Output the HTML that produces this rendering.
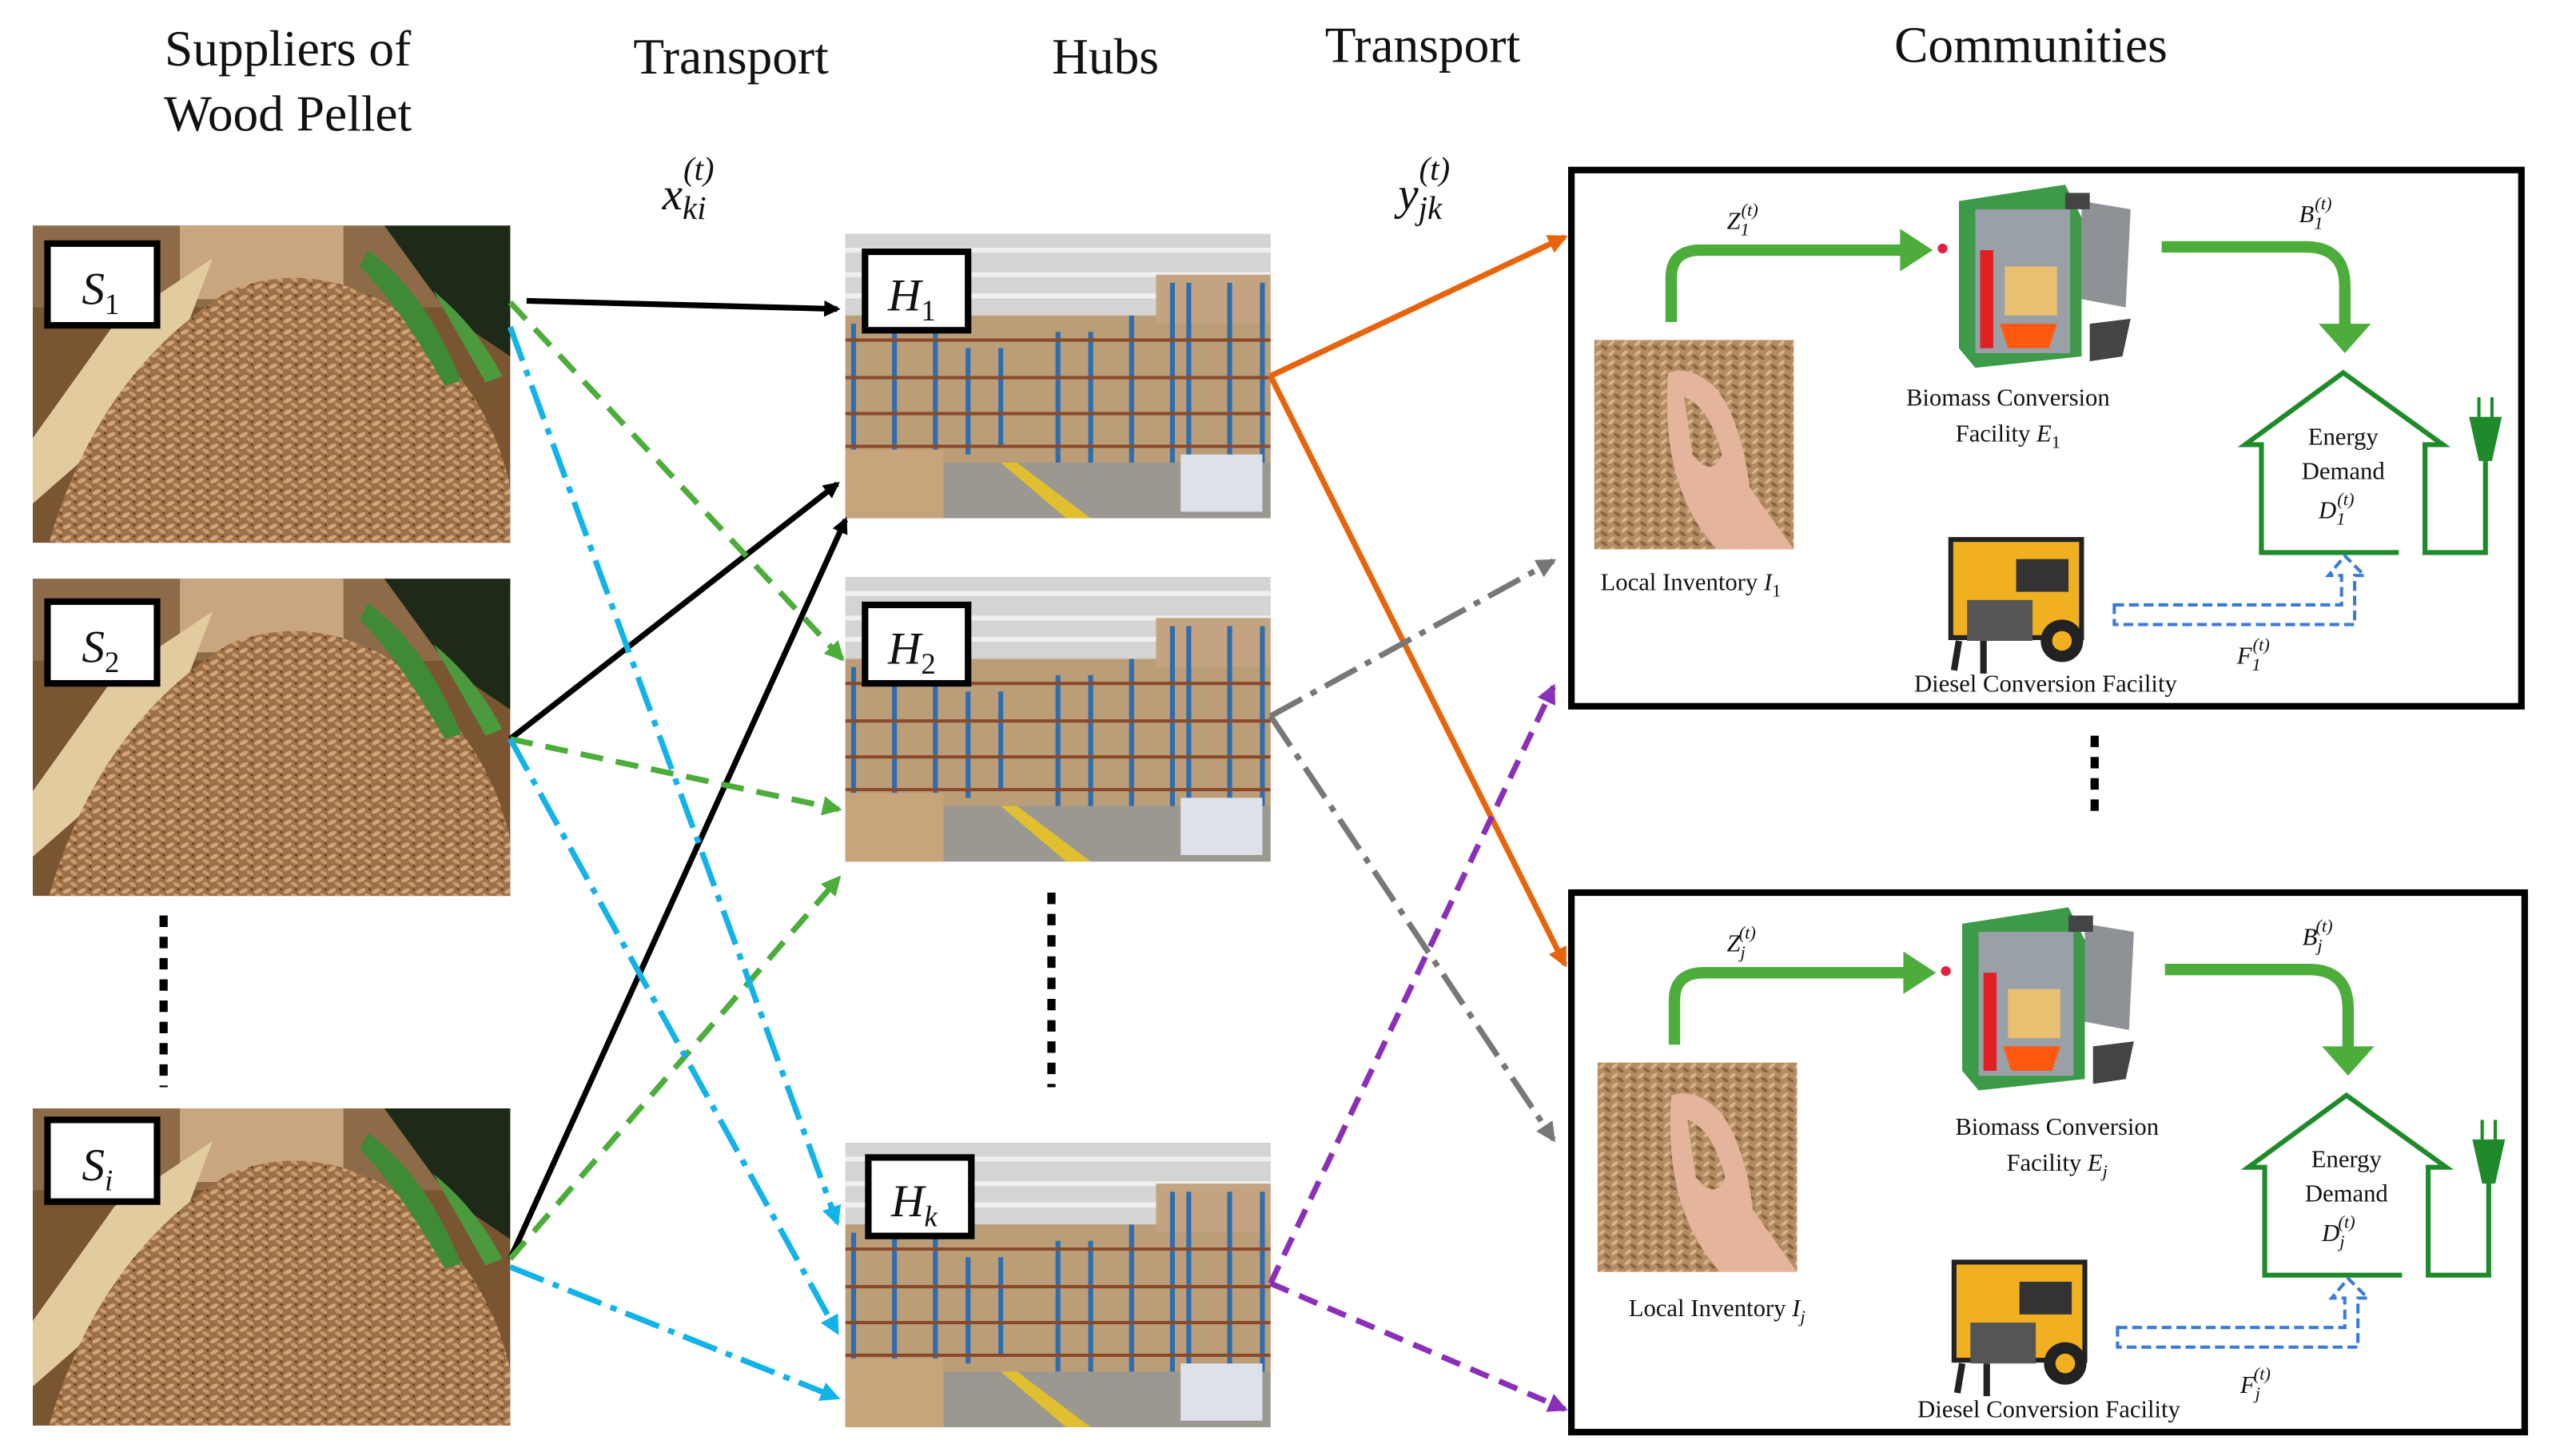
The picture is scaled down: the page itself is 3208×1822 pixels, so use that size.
<!DOCTYPE html>
<html><head><meta charset="utf-8"><style>
html,body{margin:0;padding:0;background:#fff;}
svg{display:block;}
text{font-family:"Liberation Serif",serif;fill:#111;}
</style></head><body>
<svg width="3208" height="1822" viewBox="0 0 1568 890.6" xmlns="http://www.w3.org/2000/svg">
<defs>
<pattern id="pel" width="9" height="7" patternUnits="userSpaceOnUse">
<rect width="9" height="7" fill="#9c7048"/>
<ellipse cx="3" cy="2" rx="2.8" ry="1.3" fill="#d2a47a" transform="rotate(-25 3 2)"/>
<ellipse cx="7" cy="5" rx="2.5" ry="1.2" fill="#c89a6c" transform="rotate(30 7 5)"/>
<circle cx="8" cy="1" r="0.7" fill="#5a3a1e"/>
</pattern>
<pattern id="pel2" width="8" height="6" patternUnits="userSpaceOnUse">
<rect width="8" height="6" fill="#b48c63"/>
<ellipse cx="2.5" cy="2" rx="2.4" ry="1" fill="#d6b48c" transform="rotate(-40 2.5 2)"/>
<ellipse cx="6" cy="4.5" rx="2.4" ry="1" fill="#8a6440" transform="rotate(35 6 4.5)"/>
</pattern>
<g id="sup">
<rect x="0" y="0" width="292" height="194" fill="#7a5532"/>
<rect x="0" y="0" width="292" height="50" fill="#8e6b48"/>
<rect x="90" y="0" width="100" height="45" fill="#c9a680"/>
<path d="M0 130 L50 60 L110 20 L80 100 L0 170Z" fill="#e3cba0"/>
<path d="M10 194 Q40 90 120 40 Q170 20 220 50 Q280 100 292 160 L292 194Z" fill="url(#pel)"/>
<path d="M215 0 L292 0 L292 80 L255 55Z" fill="#1e2a18"/>
<path d="M205 15 Q240 40 262 95 L252 98 Q225 50 200 25Z" fill="#3e8a35"/>
<path d="M245 40 Q272 62 287 92 L277 96Z" fill="#4c9a3e"/>
</g>
<g id="hub">
<rect width="260" height="174" fill="#b8b4ae"/>
<rect width="260" height="50" fill="#d4d4d2"/>
<path d="M0 10 H260 M0 25 H260 M0 38 H260" stroke="#f0f0f0" stroke-width="3"/>
<rect x="0" y="50" width="260" height="95" fill="#bb9d78"/>
<rect x="190" y="25" width="70" height="30" fill="#c4a480"/>
<g stroke="#2e6eb0" stroke-width="3">
<path d="M5 55 V145 M30 55 V145 M55 55 V145 M75 70 V135 M95 70 V130 M130 60 V140 M150 60 V140 M175 50 V150 M200 30 V150 M210 30 V170 M235 30 V170 M255 30 V170"/>
</g>
<g stroke="#8a4a2a" stroke-width="2">
<path d="M0 65 H260 M0 88 H260 M0 110 H260 M0 130 H260"/>
</g>
<rect x="0" y="140" width="260" height="34" fill="#9a9890"/>
<path d="M95 140 L135 174 L150 174 L105 140Z" fill="#e0c030"/>
<rect x="0" y="132" width="60" height="42" fill="#c7a47a"/>
<rect x="205" y="135" width="50" height="35" fill="#dde2ea"/>
</g>
<g id="hand">
<rect width="122" height="128" fill="url(#pel2)"/>
<path d="M45 20 Q60 15 75 30 Q90 50 95 90 L122 128 L75 128 Q40 90 45 20Z" fill="#e4b49c"/>
<path d="M55 35 Q70 40 78 70 Q72 85 60 70Z" fill="url(#pel2)"/>
</g>
<g id="boiler">
<path d="M20 10 L85 0 L95 20 L95 105 L30 112 L20 100Z" fill="#3c9a48"/>
<rect x="30" y="15" width="58" height="88" fill="#9aa0a8"/>
<rect x="33" y="40" width="8" height="60" fill="#e02020"/>
<rect x="48" y="50" width="32" height="30" fill="#e8c070"/>
<path d="M45 85 L80 85 L75 100 L50 100Z" fill="#ff5a10"/>
<path d="M95 10 L125 15 L122 75 L95 70Z" fill="#8e9296"/>
<rect x="85" y="5" width="15" height="10" fill="#444"/>
<path d="M100 85 L125 82 L120 105 L100 108Z" fill="#444"/>
</g>
<g id="gen">
<rect x="10" y="8" width="80" height="60" fill="#f0b020" stroke="#222" stroke-width="3"/>
<rect x="50" y="20" width="32" height="20" fill="#333"/>
<rect x="20" y="45" width="40" height="25" fill="#555"/>
<circle cx="78" cy="70" r="13" fill="#222"/><circle cx="78" cy="70" r="6" fill="#f0b020"/>
<path d="M15 70 L12 88 M30 70 L30 90" stroke="#222" stroke-width="4"/>
</g>
<marker id="aK" markerWidth="10" markerHeight="10" refX="8" refY="5" orient="auto" markerUnits="userSpaceOnUse"><path d="M0 0 L10 5 L0 10Z" fill="#000"/></marker>
<marker id="aG" markerWidth="12" markerHeight="12" refX="10" refY="6" orient="auto" markerUnits="userSpaceOnUse"><path d="M0 0 L12 6 L0 12Z" fill="#4cad3a"/></marker>
<marker id="aC" markerWidth="12" markerHeight="12" refX="10" refY="6" orient="auto" markerUnits="userSpaceOnUse"><path d="M0 0 L12 6 L0 12Z" fill="#12b3e8"/></marker>
<marker id="aO" markerWidth="12" markerHeight="12" refX="10" refY="6" orient="auto" markerUnits="userSpaceOnUse"><path d="M0 0 L12 6 L0 12Z" fill="#e8640c"/></marker>
<marker id="aY" markerWidth="12" markerHeight="12" refX="10" refY="6" orient="auto" markerUnits="userSpaceOnUse"><path d="M0 0 L12 6 L0 12Z" fill="#777"/></marker>
<marker id="aP" markerWidth="12" markerHeight="12" refX="10" refY="6" orient="auto" markerUnits="userSpaceOnUse"><path d="M0 0 L12 6 L0 12Z" fill="#8a2fb8"/></marker>
</defs>

<!-- titles -->
<text x="176" y="40" font-size="31" text-anchor="middle">Suppliers of</text>
<text x="176" y="80" font-size="31" text-anchor="middle">Wood Pellet</text>
<text x="447" y="45" font-size="31" text-anchor="middle">Transport</text>
<text x="676" y="45" font-size="31" text-anchor="middle">Hubs</text>
<text x="870" y="38" font-size="31" text-anchor="middle">Transport</text>
<text x="1242" y="38" font-size="31" text-anchor="middle">Communities</text>
<text x="405" y="128" font-size="28" font-style="italic">x<tspan font-size="20" dy="6">ki</tspan><tspan font-size="20" dx="-14" dy="-24">(t)</tspan></text>
<text x="855" y="128" font-size="28" font-style="italic">y<tspan font-size="20" dy="6">jk</tspan><tspan font-size="20" dx="-14" dy="-24">(t)</tspan></text>

<!-- suppliers -->
<use href="#sup" x="20" y="138"/>
<use href="#sup" x="20" y="354"/>
<use href="#sup" x="20" y="678"/>
<g stroke="#000" stroke-width="4" fill="#fff">
<rect x="29" y="149" width="67" height="50"/>
<rect x="29" y="368" width="67" height="50"/>
<rect x="29" y="685" width="67" height="50"/>
</g>
<text x="50" y="186" font-size="28" font-style="italic">S<tspan font-size="18" font-style="normal" dy="6">1</tspan></text>
<text x="50" y="405" font-size="28" font-style="italic">S<tspan font-size="18" font-style="normal" dy="6">2</tspan></text>
<text x="50" y="722" font-size="28" font-style="italic">S<tspan font-size="18" dy="6">i</tspan></text>
<path d="M100 560 V665" stroke="#000" stroke-width="5" stroke-dasharray="7 6"/>

<!-- hubs -->
<use href="#hub" x="517" y="143"/>
<use href="#hub" x="517" y="353"/>
<use href="#hub" x="517" y="699"/>
<g stroke="#000" stroke-width="4" fill="#fff">
<rect x="529" y="154" width="63" height="48"/>
<rect x="529" y="370" width="63" height="48"/>
<rect x="531" y="708" width="63" height="48"/>
</g>
<text x="543" y="190" font-size="28" font-style="italic">H<tspan font-size="18" font-style="normal" dy="6">1</tspan></text>
<text x="543" y="406" font-size="28" font-style="italic">H<tspan font-size="18" font-style="normal" dy="6">2</tspan></text>
<text x="545" y="744" font-size="28" font-style="italic">H<tspan font-size="18" dy="6">k</tspan></text>
<path d="M643 546 V665" stroke="#000" stroke-width="5" stroke-dasharray="7 6"/>

<!-- arrows -->
<g fill="none" stroke-width="3.5">
<path d="M322 184 L512 189" stroke="#000" marker-end="url(#aK)"/>
<path d="M312 452 L512 296" stroke="#000" marker-end="url(#aK)"/>
<path d="M312 770 L517 318" stroke="#000" marker-end="url(#aK)"/>
<g stroke="#4cad3a" stroke-dasharray="14 8">
<path d="M312 185 L515 403" marker-end="url(#aG)"/>
<path d="M312 452 L513 495" marker-end="url(#aG)"/>
<path d="M312 770 L513 537" marker-end="url(#aG)"/>
</g>
<g stroke="#12b3e8" stroke-dasharray="22 6 4 6">
<path d="M312 200 L512 748" marker-end="url(#aC)"/>
<path d="M312 452 L512 815" marker-end="url(#aC)"/>
<path d="M312 775 L512 855" marker-end="url(#aC)"/>
</g>
<path d="M777 230 L957 145" stroke="#e8640c" marker-end="url(#aO)"/>
<path d="M777 230 L957 590" stroke="#e8640c" marker-end="url(#aO)"/>
<g stroke="#777" stroke-dasharray="22 6 4 6">
<path d="M777 438 L950 343" marker-end="url(#aY)"/>
<path d="M777 438 L950 697" marker-end="url(#aY)"/>
</g>
<g stroke="#8a2fb8" stroke-dasharray="12 7">
<path d="M777 785 L950 420" marker-end="url(#aP)"/>
<path d="M777 785 L957 862" marker-end="url(#aP)"/>
</g>
</g>

<!-- communities -->
<rect x="961" y="104" width="581" height="328" fill="none" stroke="#000" stroke-width="4"/>
<rect x="961" y="546" width="583" height="330" fill="none" stroke="#000" stroke-width="4"/>

<g>
<use href="#hand" x="975" y="208"/>
<text x="1034" y="361" font-size="15" text-anchor="middle">Local Inventory <tspan font-style="italic">I</tspan><tspan font-size="11" dy="4">1</tspan></text>
<path d="M1022 197 V170 Q1022 153 1040 153 H1168" fill="none" stroke="#4cad3a" stroke-width="7"/>
<path d="M1162 140 L1182 153 L1162 166Z" fill="#4cad3a"/>
<circle cx="1188" cy="152" r="3" fill="#e02040"/>
<use href="#boiler" x="1178" y="113"/>
<text x="1228" y="248" font-size="15" text-anchor="middle">Biomass Conversion</text>
<text x="1228" y="270" font-size="15" text-anchor="middle">Facility <tspan font-style="italic">E</tspan><tspan font-size="11" dy="4">1</tspan></text>
<path d="M1322 151 H1410 Q1434 151 1434 175 V200" fill="none" stroke="#4cad3a" stroke-width="7"/>
<path d="M1418 198 L1450 198 L1434 216Z" fill="#4cad3a"/>
<path d="M1467 338 H1383 V272 H1373 L1433 228 L1494 272 H1483 V338 H1520 V270" fill="none" stroke="#1f8a2a" stroke-width="3"/>
<path d="M1510 255 L1530 255 L1524 282 H1516Z" fill="#1f8a2a"/>
<path d="M1516 243 V255 M1524 243 V255" stroke="#1f8a2a" stroke-width="2"/>
<text x="1433" y="272" font-size="15" text-anchor="middle">Energy</text>
<text x="1433" y="293" font-size="15" text-anchor="middle">Demand</text>
<text x="1418" y="317" font-size="15" font-style="italic">D<tspan font-size="11" dy="4">1</tspan><tspan font-size="11" dx="-5" dy="-12">(t)</tspan></text>
<use href="#gen" x="1183" y="322"/>
<text x="1251" y="423" font-size="15" text-anchor="middle">Diesel Conversion Facility</text>
<path d="M1293 370 H1432 V352 H1424 L1434 340 L1446 352 H1440 V382 H1293Z" fill="none" stroke="#3a7ad8" stroke-width="2" stroke-dasharray="6 3"/>
<text x="1368" y="406" font-size="15" font-style="italic">F<tspan font-size="11" dy="4">1</tspan><tspan font-size="11" dx="-5" dy="-12">(t)</tspan></text>
<text x="1056" y="140" font-size="15" font-style="italic">Z<tspan font-size="11" dy="4">1</tspan><tspan font-size="11" dx="-5" dy="-12">(t)</tspan></text>
<text x="1406" y="136" font-size="15" font-style="italic">B<tspan font-size="11" dy="4">1</tspan><tspan font-size="11" dx="-5" dy="-12">(t)</tspan></text>
</g>

<g transform="translate(2 442)">
<use href="#hand" x="975" y="208"/>
<text x="1048" y="363" font-size="15" text-anchor="middle">Local Inventory <tspan font-style="italic">I<tspan font-size="11" dy="4">j</tspan></tspan></text>
<path d="M1022 197 V170 Q1022 153 1040 153 H1168" fill="none" stroke="#4cad3a" stroke-width="7"/>
<path d="M1162 140 L1182 153 L1162 166Z" fill="#4cad3a"/>
<circle cx="1188" cy="152" r="3" fill="#e02040"/>
<use href="#boiler" x="1178" y="113"/>
<text x="1256" y="252" font-size="15" text-anchor="middle">Biomass Conversion</text>
<text x="1256" y="274" font-size="15" text-anchor="middle">Facility <tspan font-style="italic">E<tspan font-size="11" dy="4">j</tspan></tspan></text>
<path d="M1322 151 H1410 Q1434 151 1434 175 V200" fill="none" stroke="#4cad3a" stroke-width="7"/>
<path d="M1418 198 L1450 198 L1434 216Z" fill="#4cad3a"/>
<path d="M1467 338 H1383 V272 H1373 L1433 228 L1494 272 H1483 V338 H1520 V270" fill="none" stroke="#1f8a2a" stroke-width="3"/>
<path d="M1510 255 L1530 255 L1524 282 H1516Z" fill="#1f8a2a"/>
<path d="M1516 243 V255 M1524 243 V255" stroke="#1f8a2a" stroke-width="2"/>
<text x="1433" y="272" font-size="15" text-anchor="middle">Energy</text>
<text x="1433" y="293" font-size="15" text-anchor="middle">Demand</text>
<text x="1418" y="317" font-size="15" font-style="italic">D<tspan font-size="11" dy="4">j</tspan><tspan font-size="11" dx="-4" dy="-12">(t)</tspan></text>
<use href="#gen" x="1183" y="322"/>
<text x="1251" y="425" font-size="15" text-anchor="middle">Diesel Conversion Facility</text>
<path d="M1293 370 H1432 V352 H1424 L1434 340 L1446 352 H1440 V382 H1293Z" fill="none" stroke="#3a7ad8" stroke-width="2" stroke-dasharray="6 3"/>
<text x="1368" y="410" font-size="15" font-style="italic">F<tspan font-size="11" dy="4">j</tspan><tspan font-size="11" dx="-4" dy="-12">(t)</tspan></text>
<text x="1054" y="140" font-size="15" font-style="italic">Z<tspan font-size="11" dy="4">j</tspan><tspan font-size="11" dx="-4" dy="-12">(t)</tspan></text>
<text x="1406" y="136" font-size="15" font-style="italic">B<tspan font-size="11" dy="4">j</tspan><tspan font-size="11" dx="-4" dy="-12">(t)</tspan></text>
</g>
<path d="M1281 450 V502" stroke="#000" stroke-width="5" stroke-dasharray="7 6"/>
</svg>
</body></html>
